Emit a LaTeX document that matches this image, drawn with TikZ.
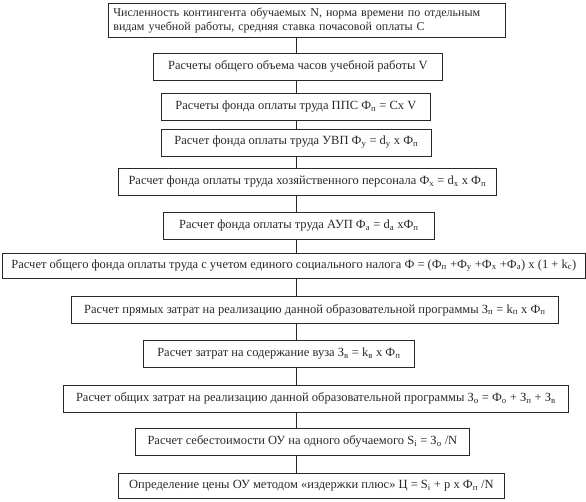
\documentclass[tikz,border=0pt]{standalone}
\usepackage{fontspec}
\setmainfont{Liberation Serif}
\usepackage{xcolor}
\definecolor{ink}{RGB}{40, 40, 40}

\newcommand{\sub}[1]{\textsubscript{#1}}

\tikzset{
  stage/.style={draw=ink, line width=0.8pt, anchor=west, inner xsep=8pt,
    minimum height=27pt, text=ink, font=\fontsize{12.5}{14}\selectfont},
  link/.style={draw=ink, line width=0.8pt}
}

\begin{document}
\begin{tikzpicture}[x=1pt, y=-1pt]
      \useasboundingbox (0, 0) rectangle (586, 501);
      \node[stage, align=left, text width=387pt, inner xsep=5pt, inner ysep=2pt,
        minimum height=34pt, font=\fontsize{12}{14}\selectfont] (count) at (108, 20)
        {Численность контингента обучаемых N, норма времени по отдельным\\
         видам учебной работы, средняя ставка почасовой оплаты С};
      \node[stage, minimum width=289pt] (hours) at (153, 66.5) {Расчеты общего объема часов учебной работы V};
      \node[stage, minimum width=269pt] (pps) at (161, 106.5) {Расчеты фонда оплаты труда ППС Ф\sub{п} = Сх V};
      \node[stage, minimum width=270pt] (uvp) at (161, 142.5) {Расчет фонда оплаты труда УВП Ф\sub{у} = d\sub{у} x Ф\sub{п}};
      \node[stage, minimum width=378pt] (staff) at (118, 181.5) {Расчет фонда оплаты труда хозяйственного персонала Ф\sub{х} = d\sub{х} x Ф\sub{п}};
      \node[stage, minimum width=271pt] (aup) at (163, 225.5) {Расчет фонда оплаты труда АУП Ф\sub{а} = d\sub{а} xФ\sub{п}};
      \node[stage, minimum width=583pt, minimum height=25pt] (total) at (2, 265.5) {Расчет общего фонда оплаты труда с учетом единого социального налога Ф = (Ф\sub{п} +Ф\sub{у} +Ф\sub{х} +Ф\sub{а}) x (1 + k\sub{с})};
      \node[stage, minimum width=487pt] (direct) at (71, 310) {Расчет прямых затрат на реализацию данной образовательной программы З\sub{п} = k\sub{п} x Ф\sub{п}};
      \node[stage, minimum width=271pt] (upkeep) at (143, 353.5) {Расчет затрат на содержание вуза З\sub{в} = k\sub{в} x Ф\sub{п}};
      \node[stage, minimum width=505pt] (costs) at (63, 398.5) {Расчет общих затрат на реализацию данной образовательной программы З\sub{о} = Ф\sub{о} + З\sub{п} + З\sub{в}};
      \node[stage, minimum width=334pt] (unit) at (135, 441.5) {Расчет себестоимости ОУ на одного обучаемого S\sub{i} = З\sub{о} /N};
      \node[stage, minimum width=386pt, minimum height=25pt] (price) at (118, 485.5) {Определение цены ОУ методом «издержки плюс» Ц = S\sub{i} + p x Ф\sub{п} /N};

      % vertical spine
      \coordinate (spine) at (296, 0);
      \draw[link] (count.south -| spine)--(hours.north -| spine);
      \draw[link] (hours.south -| spine)--(pps.north -| spine);
      \draw[link] (pps.south -| spine)--(uvp.north -| spine);
      \draw[link] (uvp.south -| spine)--(staff.north -| spine);
      \draw[link] (staff.south -| spine)--(aup.north -| spine);
      \draw[link] (aup.south -| spine)--(total.north -| spine);
      \draw[link] (total.south -| spine)--(direct.north -| spine);
      \draw[link] (direct.south -| spine)--(upkeep.north -| spine);
      \draw[link] (upkeep.south -| spine)--(costs.north -| spine);
      \draw[link] (costs.south -| spine)--(unit.north -| spine);
      \draw[link] (unit.south -| spine)--(price.north -| spine);
    \end{tikzpicture}
\end{document}
